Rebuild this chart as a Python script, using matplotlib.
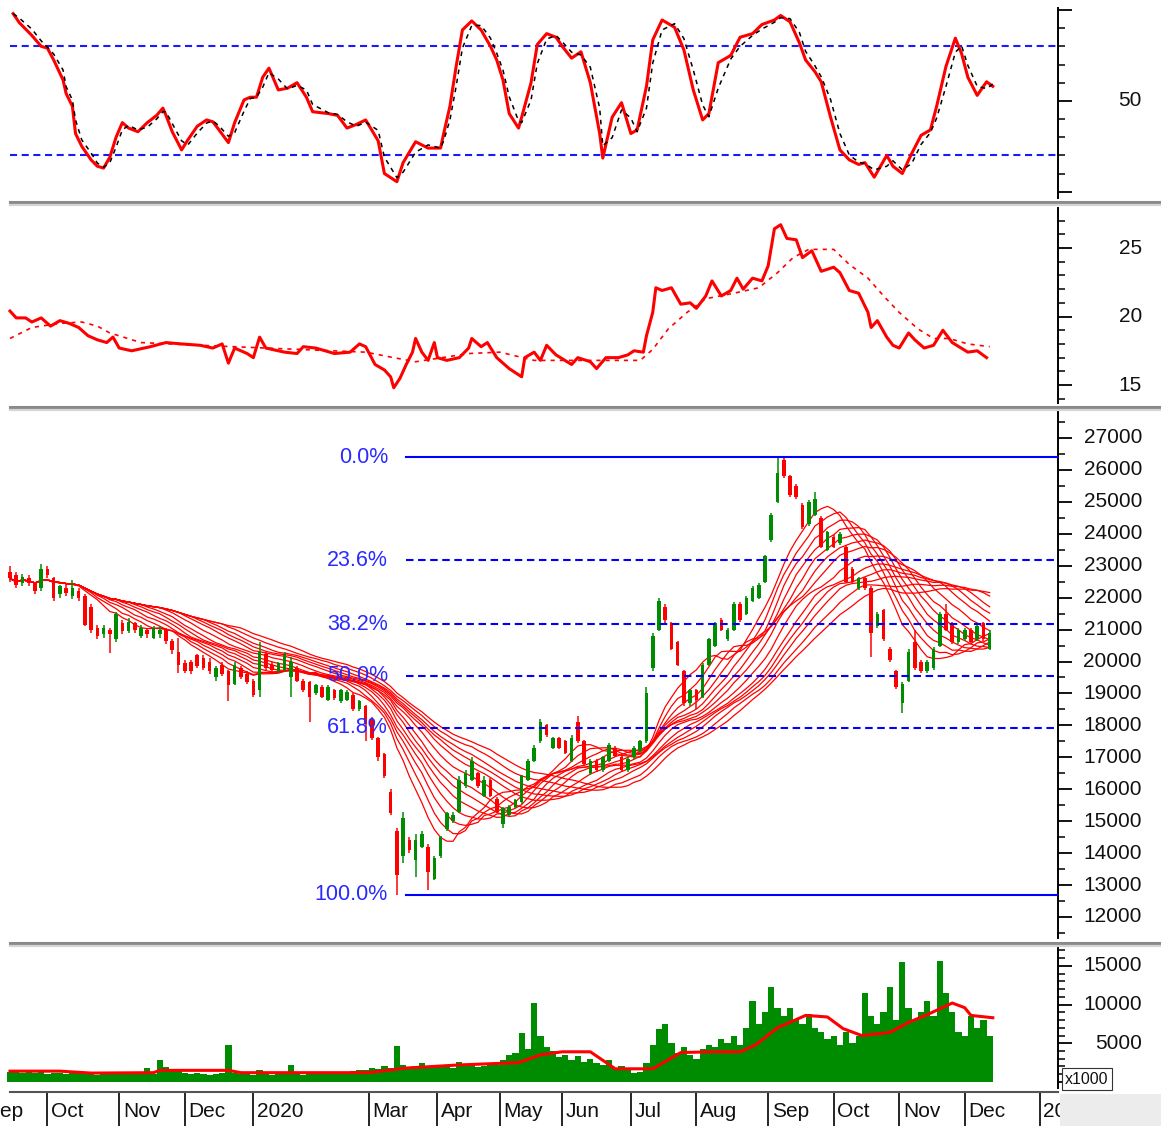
import numpy as np
import pandas as pd
import matplotlib
matplotlib.use("Agg")
import matplotlib.pyplot as plt
import matplotlib.transforms as mtransforms
from matplotlib.lines import Line2D
from matplotlib.patches import Rectangle
from matplotlib.ticker import MultipleLocator, FixedLocator, NullFormatter

plt.rcParams['font.family'] = ['Liberation Sans', 'DejaVu Sans']

# ---------------- data ----------------
month_days = [-9, 12, 35, 56, 78, 115, 137, 157, 177, 199, 220, 243, 264, 285, 306, 330]
month_labels = ['Sep', 'Oct', 'Nov', 'Dec', '2020', 'Mar', 'Apr', 'May', 'Jun', 'Jul',
                'Aug', 'Sep', 'Oct', 'Nov', 'Dec', '2021']
bar_step = 2  # trading days per candle

opens = [22800,22700,22450,22600,22450,22300,22900,22600,22100,22300,
         22050,22200,22050,21700,21050,20850,21000,20700,21200,20950,
         21200,20800,21000,20750,20850,21000,20650,20300,19950,20000,
         20200,20100,20000,19500,19900,19700,19300,19800,19600,19400,
         19100,20250,19900,19700,19750,19500,19800,19400,19350,19000,
         19200,18800,19100,18750,18800,18950,18500,18600,18200,17600,
         17100,15900,14700,13900,14400,13800,14200,14200,13200,13900,
         14750,15000,15300,16100,16300,16500,15800,16300,15700,14900,
         15200,15450,15600,16300,16900,17500,18000,17300,17600,17500,
         16900,18100,17500,16500,16900,16600,16900,17300,17000,16600,
         17000,17200,17500,19800,21000,21700,21200,20600,19700,18700,
         19100,18900,19900,20500,21300,20700,21000,21800,21500,21900,
         22000,22500,23800,25000,26300,25800,25500,24900,24300,24600,
         24500,23500,23900,23700,23600,22900,22300,22600,22300,21100,
         21600,20400,19700,18700,19400,20600,20000,19700,19800,20500,
         21500,21200,20600,20700,21000,20700,21200,20400]
closes = [22600,22400,22650,22450,22200,22900,22700,22000,22350,22150,
          22300,22000,21150,21000,20800,21050,20850,21500,20950,21250,
          21000,21050,20850,21050,21000,20650,20350,19900,19700,19700,
          19850,19800,19700,19800,19600,19250,19900,19500,19350,18950,
          20300,19800,19750,19950,20200,20000,19400,19100,18900,19250,
          18900,19200,18850,19100,19050,18500,18750,18050,17600,17000,
          16400,15250,13300,15100,14100,14400,14600,13400,13850,14500,
          15250,15200,16300,16500,16900,16100,16300,15800,15300,15400,
          15450,15650,16400,16900,17300,18100,17700,17600,17300,17150,
          17600,17500,16800,16900,16600,17000,17400,17050,16600,16950,
          17300,17500,19000,20800,21900,21300,20400,19900,18700,19100,
          18800,19900,20700,21200,21000,21000,21800,21300,22000,22300,
          22400,23300,24600,25900,25800,25200,25150,24200,25000,25100,
          23600,24050,23600,24000,22500,22500,22600,22300,20900,21500,
          20700,20050,19200,19300,20300,19800,19700,20000,20400,21500,
          21000,20600,21000,21000,20600,21100,20700,20900]
highs = [23000,22800,22750,22700,22500,23050,23000,22650,22400,22400,
         22550,22300,22100,21800,21150,21150,21050,21550,21300,21350,
         21250,21150,21050,21100,21100,21050,20700,20750,20050,20050,
         20250,20200,20100,19850,20000,19750,20000,19850,19700,19450,
         20600,20300,20000,20000,20300,20150,19850,19450,19400,19300,
         19250,19250,19150,19150,19100,19000,18800,18650,18250,17650,
         17150,16000,14800,15300,14500,14600,14700,14300,13900,14550,
         15300,15300,16400,16600,17000,16550,16400,16350,15750,15450,
         15500,15700,16450,16950,17400,18200,18050,17650,17650,17550,
         17700,18300,17550,16950,16950,17050,17450,17350,17050,17000,
         17350,17550,19200,20900,22000,21800,21250,20650,19750,19150,
         19150,19950,20750,21250,21350,21050,21850,21850,22050,22350,
         22450,23350,24650,26400,26400,25850,25550,24950,25050,25300,
         24550,24100,23950,24050,23650,22950,22650,22650,22350,21550,
         21650,20450,19750,19350,20400,21000,20050,20050,20450,21550,
         21800,21250,21050,21050,21050,21150,21250,21000]
lows = [22500,22300,22350,22350,22100,22200,22600,21900,22000,22050,
        21950,21900,21100,20900,20700,20750,20270,20600,20850,20900,
        20900,20750,20750,20700,20750,20550,20250,19650,19650,19600,
        19800,19750,19600,19400,19550,18750,19250,19450,19300,18900,
        18900,19750,19700,19650,19700,18900,19350,19050,18100,18950,
        18850,18750,18800,18700,18750,18450,18450,17500,17550,16900,
        16350,15200,12700,13700,14000,13250,14150,12850,13150,13850,
        14700,14950,15250,16050,16250,16050,15750,15750,15250,14800,
        15150,15400,15550,16250,16850,17450,17650,17250,17250,17100,
        16850,17450,16750,16450,16550,16550,16850,17000,16550,16550,
        16950,17150,17450,19700,20950,21200,20350,19850,18600,18600,
        18500,18850,19850,20450,20950,20650,20950,21250,21450,21850,
        21950,22450,23750,24950,25750,25150,25100,24150,24250,24550,
        23550,23450,23550,23650,22450,22450,22250,22250,20150,21050,
        20650,20000,19150,18400,19350,19750,19650,19650,19750,20450,
        20950,20550,20550,20650,20550,20650,20650,20350]
volumes = [1300,1500,1200,1400,1100,1300,1000,1200,1100,1000,
           1300,1200,1000,1100,900,1200,1000,1100,1300,1100,
           1000,1200,1800,1000,2800,1900,1700,1500,1200,1000,
           1100,1000,900,1000,1100,4800,1200,1000,1100,900,
           1500,1000,900,1100,1000,2200,1000,900,1100,1200,
           1000,1100,1000,1200,1300,1400,1500,1600,1800,1700,
           2000,1800,4600,2200,1900,2000,2400,1800,2100,1900,
           2000,1800,2600,2000,2200,1900,2100,2300,2200,2800,
           3500,3800,6300,4200,10200,6000,4500,4000,3200,3500,
           2800,3300,2600,3000,2500,2200,2800,1800,2000,1500,
           1200,1300,2500,4800,6800,7500,5000,3800,4500,3500,
           3000,4200,4800,4500,5500,5000,6000,4800,7000,10500,
           7500,9000,12300,9500,8500,9600,8000,7500,8800,7000,
           6500,5500,6000,4800,6500,5000,6000,11500,8500,7500,
           9000,12300,8000,15500,9500,8000,9000,10500,8500,15600,
           11500,9000,6500,6000,8500,7000,8000,6000]

vol_ma_day = [0,16,26,46,48,70,74,115,127,144,163,170,177,186,194,206,215,225,234,239,
              246,255,262,267,273,282,288,294,302,306,308,315]
vol_ma = [1400,1400,1150,1200,1500,1500,1200,1200,1800,2200,2500,3500,3900,3900,1700,1700,
          3800,3900,3900,4800,7000,8600,8400,6900,6000,6400,7700,8700,10200,9600,8600,8300]

stoch_day = [1,3,7,10,12,14,17,18,20,21,23,26,28,30,32,34,36,38,41,44,
             47,49,50,52,55,57,60,63,65,67,70,72,75,77,79,81,83,86,89,92,
             95,97,102,105,108,111,114,118,120,124,126,130,134,138,139,141,143,145,148,151,
             154,156,158,160,163,164,167,169,172,175,177,180,183,186,189,190,193,196,199,201,
             204,206,209,213,216,219,222,224,227,231,234,238,241,245,247,250,253,255,258,260,
             263,266,269,272,274,277,281,283,286,289,292,295,297,300,303,305,307,310,313,315]
stoch_k = [98,93,86,80,79,72.5,61.5,54,47,32,25,17.5,14,13,19,30,38,35,33,38,
           42,46,42,33,23,28.5,36,39.5,38.5,34,27,38,50.5,52,52,63,68,56,57,60,
           52,44,43,42,35,37,39.5,28,10,5.5,16,27.5,24,24,32,47,69,89,94,89,
           80,72.5,61.5,43,35,41,60,81,87,85,80,73.5,77,60,32,18.5,41,49,32,34,
           58,83.5,94.5,90.5,78,56,39.5,43,71,75,85,87,92,94.5,97,93.5,82,72.5,66,60.5,
           41,23,17.5,15,16,8,20,14,10,21,31,34,47,69,84.5,76,63,53,60.5,58]
stoch_levels = [20, 80]

ind_day = [0,2,5,7,10,13,16,19,22,25,28,31,33,35,39,45,50,55,61,65,
           68,70,72,76,78,80,82,88,92,94,98,104,109,112,114,117,120,122,123,125,
           127,129,130,132,134,136,137,140,144,147,148,151,153,156,160,164,165,168,170,172,
           175,180,182,186,188,191,195,198,200,203,204,206,207,209,212,215,218,220,223,225,
           228,231,233,235,238,241,243,245,247,249,252,254,257,260,264,266,269,272,275,276,
           278,281,283,285,288,290,293,296,299,302,307,310,313]
ind_val = [20.4,19.9,19.9,19.6,19.9,19.3,19.7,19.5,19.2,18.6,18.3,18.1,18.5,17.7,17.5,17.8,18.1,18.0,17.9,17.7,
           18.0,16.6,17.7,17.3,17.0,18.5,17.7,17.4,17.3,17.8,17.7,17.3,17.4,18.0,17.8,16.5,16.1,15.6,14.8,15.5,
           16.5,17.4,18.4,17.4,16.8,18.1,17.0,16.8,17.0,17.7,18.4,17.8,18.1,17.0,16.2,15.6,17.0,17.4,16.8,17.9,
           17.2,16.5,17.0,16.7,16.2,17.0,17.0,17.2,17.5,17.4,18.6,20.3,22.1,21.9,22.1,20.9,21.0,20.6,21.5,22.6,
           21.5,21.9,22.8,22.0,22.8,22.6,23.7,26.4,26.7,25.7,25.6,24.3,24.8,23.3,23.6,23.2,21.9,21.7,20.3,19.2,
           19.7,18.5,17.9,17.7,18.8,18.3,17.7,17.9,19.0,18.1,17.4,17.5,17.0]
ind_ma_day = [0,7,16,23,28,32,42,61,82,114,123,130,147,157,168,189,202,206,211,217,
              223,232,240,246,251,256,264,269,275,280,285,291,296,301,307,314]
ind_ma = [18.4,19.2,19.5,19.6,19.3,18.8,18.1,17.9,17.7,17.4,17.0,16.7,17.3,17.4,16.8,16.8,16.8,17.6,19.1,20.3,
          21.3,21.7,22.1,23.2,24.3,24.9,24.9,23.8,22.8,21.5,20.3,19.1,18.4,18.4,18.0,17.8]

fib_high = 26400
fib_low = 12700
fib_start_day = 127
fib_ratios = [0.0, 0.236, 0.382, 0.5, 0.618, 1.0]
fib_labels = ['0.0%', '23.6%', '38.2%', '50.0%', '61.8%', '100.0%']
ma_windows_days = [20, 24, 28, 32, 36, 40, 45, 50, 55, 60, 65, 70, 76]

stoch_ticks, stoch_tick_labels = [50], ['50']
ind_ticks = [15, 20, 25]
price_ticks = list(range(12000, 28000, 1000))
vol_ticks = [5000, 10000, 15000]

# ---------------- layout ----------------
W, H = 1161, 1126
fig = plt.figure(figsize=(W / 100, H / 100), dpi=100)
fig.patch.set_facecolor('white')
PX, X0, XR = 3.12, 10, 1058
xlim = (-X0 / PX, (XR - X0) / PX)
AXW = XR / W
TXT = '#111111'
RED = '#ff0000'
GREEN = '#008c00'
BLUE = '#1a1aff'
LABEL_X = 1142 / XR  # right edge of value labels, in axes fraction


def add_panel(top, bot, ylim, major, minor_step):
    ax = fig.add_axes([0, 1 - bot / H, AXW, (bot - top) / H])
    ax.set_xlim(*xlim)
    ax.set_ylim(*ylim)
    for s in ['top', 'bottom', 'left']:
        ax.spines[s].set_visible(False)
    ax.spines['right'].set_linewidth(1.4)
    ax.yaxis.tick_right()
    ax.tick_params(axis='x', bottom=False, labelbottom=False)
    ax.yaxis.set_major_locator(FixedLocator(major))
    ax.yaxis.set_minor_locator(MultipleLocator(minor_step))
    ax.yaxis.set_major_formatter(NullFormatter())
    ax.tick_params(axis='y', which='major', length=10, width=1.3, labelright=False)
    ax.tick_params(axis='y', which='minor', length=5, width=1.1)
    return ax


def value_labels(ax, values, texts):
    tr = mtransforms.blended_transform_factory(ax.transAxes, ax.transData)
    for v, t in zip(values, texts):
        ax.text(LABEL_X, v, t, transform=tr, ha='right', va='center', fontsize=15,
                color=TXT, clip_on=False)


# Panel 1: stochastic
ax1 = add_panel(8, 198, (-3.47, 101.1), [0, 50, 100], 10)
for lv in stoch_levels:
    ax1.plot([0, xlim[1]], [lv, lv], color=BLUE, lw=1.5, ls=(0, (3.4, 2.2)))
k_ser = pd.Series(stoch_k, dtype=float)
d_ser = k_ser.rolling(2, min_periods=1).mean()
ax1.plot(stoch_day, k_ser, color=RED, lw=2.2, zorder=3)
ax1.plot(stoch_day, d_ser, color='black', lw=1.1, ls=(0, (3, 3)), zorder=4)
value_labels(ax1, stoch_ticks, stoch_tick_labels)

# Panel 2: indicator
ax2 = add_panel(208, 403, (13.69, 27.92), ind_ticks, 1)
ax2.plot(ind_ma_day, ind_ma, color=RED, lw=1.2, ls=(0, (2.5, 3)), zorder=2)
ax2.plot(ind_day, ind_val, color=RED, lw=2.2, zorder=3)
value_labels(ax2, ind_ticks, [str(v) for v in ind_ticks])

# Panel 3: price
ax3 = add_panel(412, 938, (11342, 27814), price_ticks, 500)
o = np.array(opens, float)
c = np.array(closes, float)
h = np.array(highs, float)
l = np.array(lows, float)
days = np.arange(len(c)) * bar_step
cser = pd.Series(c)
for wd in ma_windows_days:
    wb = max(1, int(round(wd / bar_step)))
    ma = cser.rolling(wb, min_periods=1).mean()
    ax3.plot(days, ma, color=RED, lw=0.9, zorder=2)

up = c >= o
cols = np.where(up, GREEN, RED)
ax3.vlines(days, l, h, colors=cols, lw=1.1, zorder=3)
ax3.bar(days, np.maximum(np.abs(c - o), 60), bottom=np.minimum(o, c), width=1.15,
        color=cols, linewidth=0, zorder=3)

fib_label_day = (388 - X0) / PX
for r, lab in zip(fib_ratios, fib_labels):
    lvl = fib_high - r * (fib_high - fib_low)
    ls = '-' if r in (0.0, 1.0) else (0, (3.6, 2.2))
    ax3.plot([fib_start_day, xlim[1]], [lvl, lvl], color='#0000ff', lw=1.5, ls=ls, zorder=4)
    ax3.text(fib_label_day, lvl, lab, color='#2a2aff', fontsize=15.5, ha='right',
             va='center', zorder=5)
value_labels(ax3, price_ticks, [str(v) for v in price_ticks])

# Panel 4: volume
ax4 = add_panel(948, 1088, (-780, 17313), [0] + vol_ticks, 1000)
ax4.bar(days, volumes, width=bar_step * 1.0, color=GREEN, linewidth=0, zorder=2)
ax4.plot(vol_ma_day, vol_ma, color=RED, lw=2.2, zorder=3)
value_labels(ax4, vol_ticks, [str(v) for v in vol_ticks])

# Bottom date axis
axb = fig.add_axes([0, 0, AXW, (1126 - 1093) / H])
axb.set_xlim(*xlim)
axb.set_ylim(0, 1)
axb.axis('off')
axb.vlines(month_days, 0, 1, colors='black', lw=1.2)
for d, lab in zip(month_days, month_labels):
    axb.text(d + 1.2, 0.45, lab, fontsize=15, color=TXT, ha='left', va='center', clip_on=False)

# separators
for y in (202, 407, 943):
    fig.add_artist(Line2D([10 / W, 1], [1 - y / H] * 2, color='#8a8a8a', lw=2.2))
    fig.add_artist(Line2D([10 / W, 1], [1 - (y + 3) / H] * 2, color='#d4d4d4', lw=1.6))
fig.add_artist(Line2D([10 / W, 1058 / W], [1 - 1092 / H] * 2, color='#555555', lw=1.5))

# bottom-right grey block and unit box
fig.add_artist(Rectangle((1060 / W, 0), (W - 1060) / W, (1126 - 1094) / H,
                         transform=fig.transFigure, facecolor='#ececec', edgecolor='none', zorder=10))
fig.text(1065 / W, 1 - 1079 / H, 'x1000', fontsize=11.5, color=TXT, ha='left', va='center',
         bbox=dict(boxstyle='square,pad=0.2', fc='white', ec='#333333', lw=0.8), zorder=11)

fig.savefig('out.png', dpi=100, facecolor='white')
